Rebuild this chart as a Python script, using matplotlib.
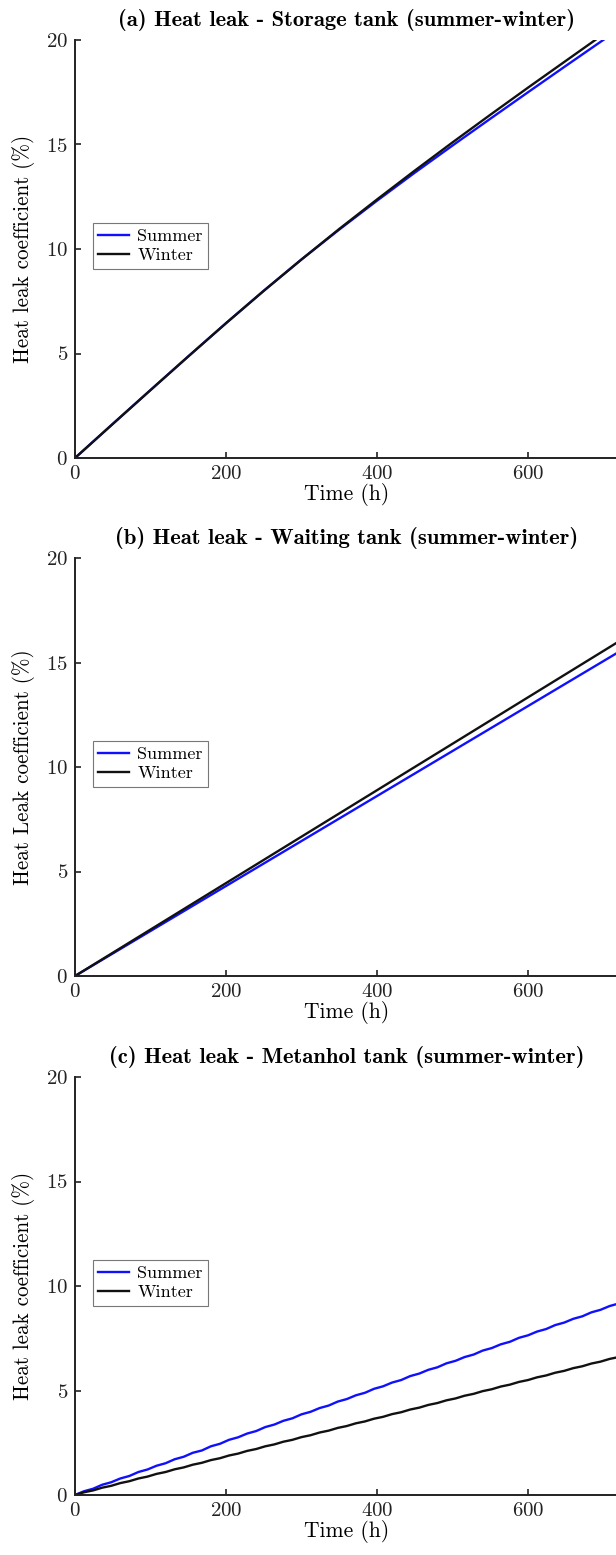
import matplotlib
matplotlib.use("Agg")
import matplotlib.pyplot as plt

# ---- data -------------------------------------------------------------
# (a) storage tank, sampled every 50 h
t_storage = [0, 50, 100, 150, 200, 250, 300, 350, 400, 450, 500, 550, 600, 650, 700, 720]
storage_summer = [0.00, 1.63, 3.25, 4.86, 6.45, 8.00, 9.50, 10.93, 12.31, 13.65,
                  14.95, 16.23, 17.50, 18.76, 20.01, 20.51]
storage_winter = [0.00, 1.63, 3.25, 4.86, 6.45, 8.00, 9.50, 10.96, 12.37, 13.75,
                  15.10, 16.42, 17.72, 19.00, 20.28, 20.79]

# (b) waiting tank
t_waiting = [0, 720]
waiting_summer = [0.0, 15.5]
waiting_winter = [0.0, 16.0]

# (c) methanol tank, sampled every 12 h
t_methanol = list(range(0, 721, 12))
methanol_summer = [0.00, 0.18, 0.30, 0.49, 0.61, 0.79, 0.91, 1.10, 1.22, 1.40,
                   1.52, 1.71, 1.83, 2.02, 2.13, 2.33, 2.45, 2.64, 2.76, 2.94,
                   3.06, 3.25, 3.37, 3.55, 3.67, 3.86, 3.98, 4.16, 4.28, 4.47,
                   4.59, 4.77, 4.89, 5.08, 5.20, 5.38, 5.50, 5.69, 5.81, 5.99,
                   6.11, 6.30, 6.42, 6.60, 6.72, 6.91, 7.03, 7.21, 7.33, 7.52,
                   7.64, 7.82, 7.94, 8.13, 8.25, 8.43, 8.55, 8.74, 8.86, 9.04,
                   9.16]
methanol_winter = [0.00, 0.13, 0.22, 0.35, 0.44, 0.57, 0.66, 0.79, 0.88, 1.01,
                   1.10, 1.23, 1.32, 1.45, 1.54, 1.67, 1.76, 1.89, 1.98, 2.11,
                   2.20, 2.33, 2.42, 2.55, 2.64, 2.77, 2.86, 2.99, 3.08, 3.21,
                   3.30, 3.43, 3.52, 3.65, 3.74, 3.87, 3.96, 4.09, 4.18, 4.31,
                   4.40, 4.53, 4.62, 4.75, 4.84, 4.97, 5.06, 5.19, 5.28, 5.41,
                   5.50, 5.63, 5.72, 5.85, 5.94, 6.07, 6.16, 6.29, 6.38, 6.51,
                   6.60]

titles = ["(a) Heat leak - Storage tank (summer-winter)",
          "(b) Heat leak - Waiting tank (summer-winter)",
          "(c) Heat leak - Metanhol tank (summer-winter)"]
ylabels = ["Heat leak coefficient (%)",
           "Heat Leak coefficient (%)",
           "Heat leak coefficient (%)"]
xlabel = "Time (h)"
series_names = ["Summer", "Winter"]
x_ticks = [0, 200, 400, 600]
y_ticks = [0, 5, 10, 15, 20]

panels = [
    (t_storage, storage_summer, storage_winter),
    (t_waiting, waiting_summer, waiting_winter),
    (t_methanol, methanol_summer, methanol_winter),
]

# ---- figure -----------------------------------------------------------
plt.rcParams["font.family"] = "cmr10"
plt.rcParams["axes.formatter.use_mathtext"] = True

W, H = 616, 1555
fig = plt.figure(figsize=(W / 100, H / 100), dpi=100)

left_px, width_px, height_px = 75, 543.6, 418
bottoms_px = [458, 976, 1495]

for i, (t, summer, winter) in enumerate(panels):
    ax = fig.add_axes([left_px / W, 1 - bottoms_px[i] / H, width_px / W, height_px / H])
    ax.plot(t, summer, color="#1010ff", lw=1.7, label=series_names[0])
    ax.plot(t, winter, color="#111111", lw=1.7, label=series_names[1])
    ax.set_xlim(0, 720)
    ax.set_ylim(0, 20)
    ax.set_xticks(x_ticks)
    ax.set_yticks(y_ticks)
    for s in ("top", "right"):
        ax.spines[s].set_visible(False)
    for s in ("left", "bottom"):
        ax.spines[s].set_linewidth(1.4)
        ax.spines[s].set_color("#222222")
    ax.tick_params(direction="in", length=4, width=1.2, labelsize=15,
                   colors="#222222", pad=5)
    ax.set_xlabel(xlabel, fontsize=15.5, labelpad=0)
    ax.set_ylabel(ylabels[i], fontsize=15.2, labelpad=8)
    ax.set_title(titles[i], fontsize=16.3, family="cmb10", pad=10)
    leg = ax.legend(loc="upper left", bbox_to_anchor=(0.033, 0.562),
                    borderaxespad=0, fancybox=False, fontsize=13,
                    handlelength=1.7, handletextpad=0.45, borderpad=0.3,
                    labelspacing=0.2, framealpha=1)
    leg.get_frame().set_edgecolor("#777777")
    leg.get_frame().set_linewidth(0.8)

fig.savefig("out.png", dpi=100)
